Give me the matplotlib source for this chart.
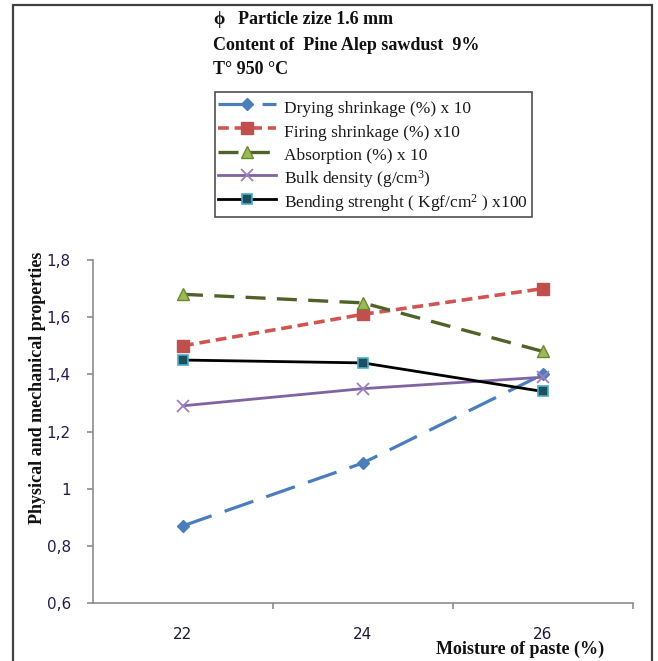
import matplotlib
matplotlib.use("Agg")
import matplotlib.pyplot as plt
from matplotlib.patches import Rectangle

moisture = ["22", "24", "26"]
drying = [0.87, 1.09, 1.40]
firing = [1.50, 1.61, 1.70]
absorption = [1.68, 1.65, 1.48]
bulk = [1.29, 1.35, 1.39]
bending = [1.45, 1.44, 1.34]
yticks = [0.6, 0.8, 1.0, 1.2, 1.4, 1.6, 1.8]
ytick_labels = ["0,6", "0,8", "1", "1,2", "1,4", "1,6", "1,8"]

plt.rcParams['mathtext.fontset'] = 'custom'
plt.rcParams['mathtext.rm'] = 'Liberation Serif'
plt.rcParams['mathtext.it'] = 'Liberation Serif:italic'

W, H = 658, 661
fig = plt.figure(figsize=(W/100, H/100), dpi=100)
ax = fig.add_axes([93/W, 1-603/H, (633-93)/W, (603-260)/H])

x = list(range(len(moisture)))
serif = ['Liberation Serif', 'DejaVu Serif']

ax.plot(x, drying, color='#4a7ebb', lw=2.3, dashes=(9.5, 4.3), marker='D', ms=6,
        mfc='#4a7ebb', mec='#4a7ebb', label='Drying shrinkage (%) x 10')
ax.plot(x, firing, color='#d05552', lw=2.6, dashes=(3.0, 1.6), marker='s', ms=8,
        mfc='#c0504d', mec='#c0504d', label='Firing shrinkage (%) x10')
ax.plot(x, absorption, color='#4f6228', lw=2.4, dashes=(6, 3.4), marker='^', ms=8,
        mfc='#9bbb59', mec='#6b8a30', label='Absorption (%) x 10')
ax.plot(x, bulk, color='#8064a2', lw=2.0, marker='x', ms=9, mew=1.3,
        mfc='#8064a2', mec='#9b7fc0', label='Bulk density (g/cm$^{3}$)')
ax.plot(x, bending, color='black', lw=2.0, marker='s', ms=7, mew=1.2,
        mfc='#1d4f5e', mec='#4bacc6', label='Bending strenght ( Kgf/cm$^{2}$ ) x100')

ax.set_xlim(-0.5, 2.5)
ax.set_ylim(0.6, 1.8)
ax.set_yticks(yticks)
ax.set_yticklabels(ytick_labels)
ax.set_xticks([0.5, 1.5, 2.5])
ax.set_xticklabels([])
ax.set_xticks(x, minor=True)
ax.set_xticklabels(moisture, minor=True)
ax.tick_params(axis='x', which='minor', length=0, pad=17, labelsize=11, labelcolor='#1a1a3a')
ax.tick_params(axis='x', which='major', direction='out', length=4, color='#8c8c8c', width=1.2)
ax.tick_params(axis='y', direction='out', length=4, color='#8c8c8c', width=1.2, pad=12,
               labelsize=11, labelcolor='#2a1a4a')
for s in ['top', 'right']:
    ax.spines[s].set_visible(False)
for s in ['left', 'bottom']:
    ax.spines[s].set_color('#8c8c8c')
    ax.spines[s].set_linewidth(1.2)

leg = fig.legend(loc='upper left', bbox_to_anchor=(215/W, 1-92/H), prop={'family': serif, 'size': 12.5},
                 frameon=True, fancybox=False, edgecolor='#222222', handlelength=3.3,
                 handleheight=1.72, handletextpad=0.5, labelspacing=0.0, borderpad=0.2,
                 borderaxespad=0)
leg.get_frame().set_linewidth(1.2)
for t in leg.get_texts():
    t.set_color('#1a1a1a')

tkw = dict(family=serif, fontweight='bold', fontsize=13, color='#111111', va='center', ha='left')
fig.text(213/W, 1-20/H, 'ϕ', **tkw)
fig.text(238/W, 1-20/H, 'Particle zize 1.6 mm', **tkw)
fig.text(213/W, 1-45/H, 'Content of  Pine Alep sawdust  9%', **tkw)
fig.text(213/W, 1-69/H, 'T° 950 °C', **tkw)

fig.text(38/W, 1-388/H, 'Physical and mechanical properties', family=serif, fontweight='bold',
         fontsize=13, rotation=90, ha='center', va='center', color='#111111')
fig.text(604/W, 1-649/H, 'Moisture of paste (%)', family=serif, fontweight='bold',
         fontsize=13, ha='right', va='center', color='#111111')

fig.patches.append(Rectangle((13/W, -0.02), (652-13)/W, 1.02-5/H, transform=fig.transFigure,
                             fill=False, edgecolor='#404040', lw=1.6))

fig.savefig('out.png', dpi=100)
